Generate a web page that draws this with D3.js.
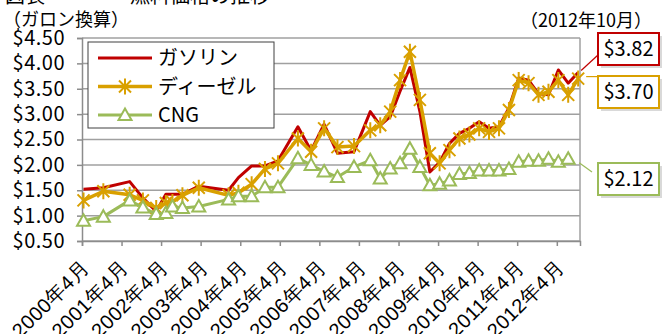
<!DOCTYPE html>
<html>
<head>
<meta charset="utf-8">
<script src="https://cdnjs.cloudflare.com/ajax/libs/d3/7.8.5/d3.min.js"></script>
<style>
body { margin:0; background:#fff; }
svg { font-family:"Noto Sans CJK JP", sans-serif; display:block; }
</style>
</head>
<body>
<svg id="chart"></svg>
<script>
// report dates (year-month)
var dates = ["2000-04","2000-10","2001-06","2001-10","2002-02","2002-05","2002-07","2002-10",
    "2003-03","2003-12","2004-03","2004-07","2004-11","2005-03","2005-09","2006-01","2006-05",
    "2006-09","2007-02","2007-07","2007-10","2008-01","2008-04","2008-07","2008-10","2009-01",
    "2009-04","2009-07","2009-10","2010-01","2010-04","2010-07","2010-10","2011-01","2011-04",
    "2011-07","2011-10","2012-01","2012-04","2012-07","2012-10"];

// prices in $ per gallon
var gasoline = [1.52,1.55,1.67,1.35,1.08,1.42,1.42,1.42,1.58,1.50,1.75,1.98,1.98,2.08,2.75,2.28,2.80,
    2.23,2.26,3.05,2.78,2.95,3.45,3.92,3.05,1.86,2.05,2.42,2.62,2.72,2.85,2.72,2.75,3.12,3.71,
    3.67,3.40,3.38,3.87,3.61,3.82];
var diesel = [1.30,1.48,1.41,1.30,1.15,1.25,1.27,1.40,1.55,1.40,1.45,1.62,1.92,2.03,2.52,2.26,2.72,
    2.35,2.37,2.68,2.78,3.05,3.67,4.23,3.28,2.23,2.03,2.29,2.52,2.60,2.72,2.65,2.72,3.08,3.67,
    3.61,3.38,3.44,3.67,3.38,3.70];
var cng = [0.90,0.98,1.30,1.16,1.03,1.05,1.18,1.15,1.18,1.32,1.38,1.38,1.56,1.56,2.13,2.00,1.87,
    1.76,1.96,2.09,1.73,1.93,2.03,2.32,1.96,1.60,1.63,1.69,1.82,1.84,1.89,1.89,1.89,1.92,2.06,
    2.08,2.08,2.12,2.06,2.12,null];

var seriesNames = ["ガソリン","ディーゼル","CNG"];
var yTicks = [0.5,1.0,1.5,2.0,2.5,3.0,3.5,4.0,4.5];
var tickYears = [2000,2001,2002,2003,2004,2005,2006,2007,2008,2009,2010,2011,2012];

var colors = ["#c00000","#d9a000","#9bbb59"];

var screen = {width:666, height:334};
var plot = {left:82, right:580, top:38, bottom:241};

var svg = d3.select("#chart")
    .attr("width",screen.width)
    .attr("height",screen.height);

var parseMonth = d3.timeParse("%Y-%m");
var midMonth = function(s) {
    var d = parseMonth(s);
    return d3.timeDay.offset(d, 14);
}

var xScale = d3.scaleTime()
    .domain([new Date(2000,3,1), new Date(2012,10,1)])
    .range([plot.left, plot.right]);

var yScale = d3.scaleLinear()
    .domain([0.5,4.5])
    .range([plot.bottom, plot.top]);

// titles (the top one is cut off by the picture edge)
svg.append("text").attr("x",5).attr("y",3)
    .attr("font-size",20).text("図表");
svg.append("text").attr("x",130).attr("y",3)
    .attr("font-size",20).text("燃料価格の推移");
svg.append("text").attr("x",3).attr("y",26)
    .attr("font-size",18).text("（ガロン換算）");
svg.append("text").attr("x",652).attr("y",27)
    .attr("font-size",18).attr("text-anchor","end").text("（2012年10月）");

// gridlines
svg.append("g")
    .selectAll("line")
    .data(yTicks)
    .enter()
    .append("line")
    .attr("x1",plot.left).attr("x2",plot.right)
    .attr("y1",function(d){return yScale(d);})
    .attr("y2",function(d){return yScale(d);})
    .attr("stroke","#a0a0a0")
    .attr("stroke-width",1.5);

// right frame
svg.append("line")
    .attr("x1",plot.right).attr("x2",plot.right)
    .attr("y1",plot.top).attr("y2",plot.bottom)
    .attr("stroke","#a0a0a0").attr("stroke-width",1.5);

// y axis
var yAxis = d3.axisLeft(yScale)
    .tickValues(yTicks)
    .tickSize(5)
    .tickPadding(12)
    .tickFormat(function(d){ return "$" + d3.format(".2f")(d); });
var gy = svg.append("g")
    .attr("transform","translate("+plot.left+",0)")
    .call(yAxis);
gy.select(".domain").attr("stroke","#8c8c8c").attr("stroke-width",1.5);
gy.selectAll(".tick line").attr("stroke","#8c8c8c").attr("stroke-width",1.5);
gy.selectAll("text")
    .attr("font-size",20)
    .attr("fill","#000")
    .style("font-family","'Noto Sans CJK JP'")
    .style("letter-spacing","0.5px");

// x axis
var xAxis = d3.axisBottom(xScale)
    .tickValues(tickYears.map(function(y){ return new Date(y,3,1); }))
    .tickSize(5)
    .tickFormat(d3.timeFormat("%Y年%-m月"));
var gx = svg.append("g")
    .attr("transform","translate(0,"+plot.bottom+")")
    .call(xAxis);
gx.select(".domain").attr("stroke","#8c8c8c").attr("stroke-width",1.5);
gx.selectAll(".tick line").attr("stroke","#8c8c8c").attr("stroke-width",1.5);
gx.selectAll("text")
    .attr("font-size",20)
    .attr("fill","#000")
    .attr("text-anchor","end")
    .style("letter-spacing","0.5px")
    .attr("y",0).attr("dy","0.35em")
    .attr("transform","translate(3,23) rotate(-45)");

// series rows
var series = [gasoline, diesel, cng].map(function(vals,i) {
    return {
        name: seriesNames[i],
        color: colors[i],
        points: dates.map(function(d,j){ return {date: midMonth(d), v: vals[j]}; })
    };
});

var line = d3.line()
    .defined(function(p){ return p.v != null; })
    .x(function(p){ return xScale(p.date); })
    .y(function(p){ return yScale(p.v); });

var starPath = "M-6,-6L6,6M-6,6L6,-6M0,-8L0,8";
var triPath = "M0,-6.5L6.5,5L-6.5,5Z";

var widths = [3,3.5,3];
series.forEach(function(s,i) {
    svg.append("path")
        .datum(s.points)
        .attr("d",line)
        .attr("fill","none")
        .attr("stroke",s.color)
        .attr("stroke-width",widths[i])
        .attr("stroke-linejoin","round");

    var pts = s.points.filter(function(p){ return p.v != null; });
    if (i == 1) {
        svg.append("g").selectAll("path").data(pts).enter().append("path")
            .attr("d",starPath)
            .attr("transform",function(p){ return "translate("+xScale(p.date)+","+yScale(p.v)+")"; })
            .attr("stroke",s.color).attr("stroke-width",2).attr("fill","none");
    }
    if (i == 2) {
        svg.append("g").selectAll("path").data(pts).enter().append("path")
            .attr("d",triPath)
            .attr("transform",function(p){ return "translate("+xScale(p.date)+","+yScale(p.v)+")"; })
            .attr("stroke",s.color).attr("stroke-width",2).attr("fill","#fff");
    }
});

// legend
var legend = svg.append("g").attr("transform","translate(88,42)");
legend.append("rect")
    .attr("width",186).attr("height",86)
    .attr("fill","#fff").attr("stroke","#404040").attr("stroke-width",1);
series.forEach(function(s,i) {
    var ly = 16 + i*28.5;
    legend.append("line")
        .attr("x1",10).attr("x2",64).attr("y1",ly).attr("y2",ly)
        .attr("stroke",s.color).attr("stroke-width",widths[i]);
    if (i == 1) legend.append("path").attr("d",starPath)
        .attr("transform","translate(37,"+ly+")")
        .attr("stroke",s.color).attr("stroke-width",2).attr("fill","none");
    if (i == 2) legend.append("path").attr("d",triPath)
        .attr("transform","translate(37,"+ly+")")
        .attr("stroke",s.color).attr("stroke-width",2).attr("fill","#fff");
    legend.append("text")
        .attr("x",70).attr("y",ly).attr("dy","0.36em")
        .attr("font-size",20).text(s.name);
});

// end value labels
var boxTops = [33,76,163];
series.forEach(function(s,i) {
    var pts = s.points.filter(function(p){ return p.v != null; });
    var last = pts[pts.length-1];
    var px = xScale(last.date), py = yScale(last.v);
    var bx = 598, by = boxTops[i], bw = 61, bh = 32;
    var lead = svg.append("path")
        .attr("fill","none").attr("stroke",s.color).attr("stroke-width",1.2);
    if (i == 0) lead.attr("d","M"+(px+3)+","+(py-2)+"L"+bx+","+(by+bh/2+6));
    if (i == 1) lead.attr("d","M"+(px+8)+","+(py-2)+"L"+bx+","+(py-2));
    if (i == 2) lead.attr("d","M"+(px+11)+","+(py+4)+"L"+(bx-6)+","+(by+9));
    svg.append("rect")
        .attr("x",bx+3).attr("y",by+3).attr("width",bw).attr("height",bh)
        .attr("fill","#bfbfbf").attr("opacity",0.6);
    svg.append("rect")
        .attr("x",bx).attr("y",by).attr("width",bw).attr("height",bh)
        .attr("fill","#fff").attr("stroke",s.color).attr("stroke-width",2);
    svg.append("text")
        .attr("x",bx+bw/2).attr("y",by+bh/2).attr("dy","0.36em")
        .attr("text-anchor","middle").attr("font-size",20)
        .text("$" + d3.format(".2f")(last.v));
});
</script>
</body>
</html>
